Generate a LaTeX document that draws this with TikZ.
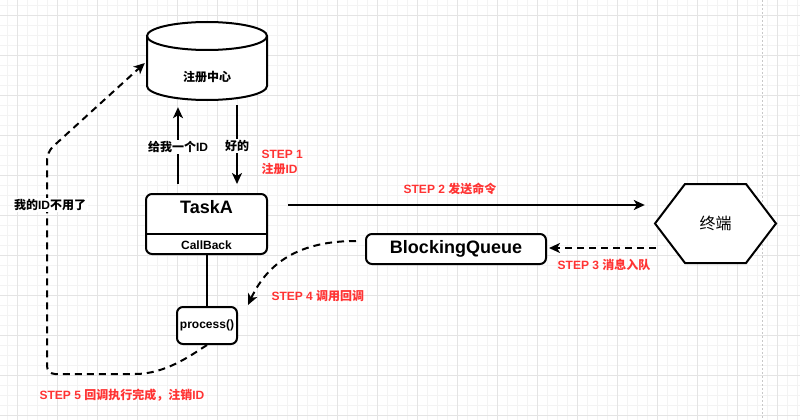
\documentclass[tikz,border=0pt]{standalone}
\usepackage{fontspec}
\setmainfont{Liberation Sans}
\newfontfamily\cjk{Noto Sans CJK SC}
\newcommand{\zh}[1]{{\cjk #1}}
\usetikzlibrary{arrows.meta}
\definecolor{stepred}{HTML}{FF3333}
\definecolor{gridminor}{HTML}{F3F3F3}
\definecolor{gridmajor}{HTML}{E4E4E4}
\definecolor{pagebreak}{HTML}{C8C8C8}
\begin{document}
\begin{tikzpicture}[x=1pt,y=-1pt,
  box/.style={draw,line width=2pt,rounded corners=6pt,fill=white},
  conn/.style={line width=2pt,-{Stealth[length=11pt,width=10pt,inset=3pt]}},
  dconn/.style={conn,dash pattern=on 7pt off 5pt},
  steplab/.style={text=stepred,font=\bfseries\fontsize{12}{15}\selectfont},
  lab/.style={font=\bfseries\fontsize{12}{14}\selectfont,fill=white,inner sep=1.5pt}]
\useasboundingbox (0,0) rectangle (800,420);
\fill[white] (0,0) rectangle (800,420);
% grid
\foreach \x in {7,17,...,797} \draw[gridminor,line width=0.8pt] (\x,0) -- (\x,420);
\foreach \y in {5,15,...,415} \draw[gridminor,line width=0.8pt] (0,\y) -- (800,\y);
\foreach \x in {17,57,...,777} \draw[gridmajor,line width=0.8pt] (\x,0) -- (\x,420);
\foreach \y in {15,55,...,415} \draw[gridmajor,line width=0.8pt] (0,\y) -- (800,\y);
\draw[pagebreak,line width=0.8pt,dash pattern=on 2pt off 2pt] (762,0) -- (762,420);

% cylinder
\node (cyl) at (207,61) [minimum width=120pt,minimum height=78pt,inner sep=0pt] {};
\filldraw[fill=white,line width=2pt] (147,36) -- (147,86)
  arc[start angle=180,end angle=360,x radius=60pt,y radius=14pt] -- (267,36)
  arc[start angle=0,end angle=180,x radius=60pt,y radius=14pt] -- cycle;
\draw[line width=2pt] (147,36) arc[start angle=180,end angle=360,x radius=60pt,y radius=14pt];
\node (cyltext) at (207,77) {\bfseries\fontsize{12}{14}\selectfont\zh{注册中心}};

% TaskA
\node (task) at (206.5,224) [box,minimum width=121pt,minimum height=60pt,inner sep=0pt] {};
\draw[line width=2pt] (146,234) -- (267,234);
\node (tasktitle) at (206.5,207) {\bfseries\fontsize{18}{20}\selectfont TaskA};
\node (callback) at (206.5,245) {\bfseries\fontsize{12}{14}\selectfont CallBack};

% process
\node (proc) at (207,325.5) [box,minimum width=60pt,minimum height=37pt,inner sep=0pt,
  font=\bfseries\fontsize{12}{14}\selectfont] {process()};

% BlockingQueue
\node (bq) at (456,249) [box,minimum width=180pt,minimum height=30pt,inner sep=0pt,
  font=\bfseries\fontsize{18}{20}\selectfont] {BlockingQueue};

% terminal hexagon
\node (term) at (715.5,223.5) [minimum width=121pt,minimum height=79pt,inner sep=0pt] {};
\filldraw[fill=white,line width=2pt] (655,223.5) -- (685,184) -- (746,184) -- (776,223.5)
  -- (746,263) -- (685,263) -- cycle;
\node (termtext) at (715.5,223.5) {\fontsize{16}{18}\selectfont\zh{终端}};

% connectors
\draw[conn] ([xshift=-28.5pt,yshift=9pt]task.north) -- ([xshift=-29pt,yshift=-7pt]cyl.south)
  node[lab,pos=0.48] {\zh{给我一个}ID};
\draw[conn] ([xshift=30pt,yshift=-5pt]cyl.south) -- ([xshift=30.5pt,yshift=9pt]task.north)
  node[lab,pos=0.52] {\zh{好的}};
\draw[conn] ([xshift=20pt,yshift=19pt]task.east) -- ([xshift=-10pt,yshift=18.5pt]term.west);
\draw[dconn] ([xshift=1pt,yshift=-24.5pt]term.west) -- ([xshift=2pt,yshift=1pt]bq.east);
\draw[dconn] ([xshift=-9pt,yshift=8pt]bq.west) .. controls (300,241) and (268,262) .. ([xshift=10pt,yshift=1pt]proc.north east);
\draw[line width=2pt] (task.south -| proc.north) -- (proc.north);
\draw[dconn] (proc.south) .. controls (190,356) and (165,374) .. (135,374)
  [rounded corners=8pt] -- (47,374) -- (47,152) -- ([xshift=-2pt,yshift=-2pt]cyl.west);
\node[lab,font=\fontsize{12}{14}\selectfont\bfseries] (idlab) at (50,205) {\zh{我的}ID\zh{不用了}};

% step labels
\node[steplab,anchor=west,align=left] (s1) at (258,162) {STEP 1\\\zh{注册}ID};
\node[steplab] (s2) at (450,189) {STEP 2 \zh{发送命令}};
\node[steplab] (s3) at (604,265) {STEP 3 \zh{消息入队}};
\node[steplab,anchor=west] (s4) at (268,296) {STEP 4 \zh{调用回调}};
\node[steplab] (s5) at (122,395) {STEP 5 \zh{回调执行完成，注销}ID};
\end{tikzpicture}
\end{document}
